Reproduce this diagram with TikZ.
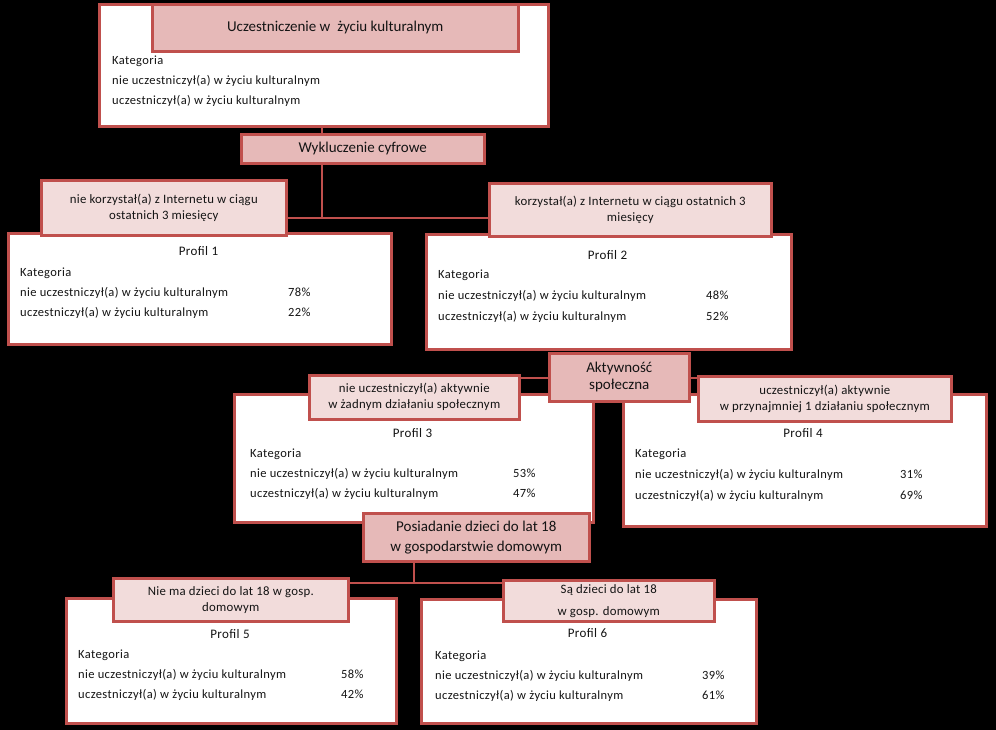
\documentclass[tikz,border=0pt]{standalone}
\usepackage{fontspec}
\setmainfont{Carlito}
\newfontfamily\bodyf{Carlito}[LetterSpace=3]
\newfontfamily\labf{Carlito}[LetterSpace=2]
\definecolor{bord}{HTML}{C0504D}
\definecolor{headf}{HTML}{E6B9B8}
\definecolor{labfill}{HTML}{F2DCDB}
\definecolor{ink}{HTML}{141414}
\begin{document}
\begin{tikzpicture}[x=1pt,y=-1pt,
  bx/.style={draw=bord, line width=2.6pt, fill=white, anchor=north west, inner sep=0pt},
  hd/.style={bx, fill=headf, align=center, text=ink, font=\fontsize{15}{19}\selectfont},
  lb/.style={bx, fill=labfill, align=center, text=ink, font=\labf\fontsize{12.8}{16}\selectfont},
  tx/.style={anchor=mid west, inner sep=0pt, text=ink, font=\bodyf\fontsize{12.5}{14}\selectfont},
  ti/.style={anchor=mid, inner sep=0pt, text=ink, font=\bodyf\fontsize{13}{14}\selectfont},
  cn/.style={draw=bord, line width=2.6pt}
]
\fill[black] (0,0) rectangle (996,730);
\useasboundingbox (0,0) rectangle (996,730);

% white boxes
\node[bx, minimum width=449pt, minimum height=122pt] (t) at (98,3) {};
\node[bx, minimum width=383pt, minimum height=111pt] (p1) at (7,232) {};
\node[bx, minimum width=365pt, minimum height=115pt] (p2) at (425,233) {};
\node[bx, minimum width=359pt, minimum height=128pt] (p3) at (233,393) {};
\node[bx, minimum width=363pt, minimum height=132pt] (p4) at (622,393) {};
\node[bx, minimum width=330pt, minimum height=125pt] (p5) at (65,597) {};
\node[bx, minimum width=335pt, minimum height=124pt] (p6) at (420,598) {};

% texts of top box
\node[tx] (tk) at (112,62) {Kategoria};
\node[tx] (tr1) at (112,82) {nie uczestniczył(a) w życiu kulturalnym};
\node[tx] (tr2) at (112,102) {uczestniczył(a) w życiu kulturalnym};

% profile 1
\node[ti] (p1t) at (198.5,253) {Profil 1};
\node[tx] (p1k) at (20,274) {Kategoria};
\node[tx] (p1a) at (20,294) {nie uczestniczył(a) w życiu kulturalnym};
\node[tx] (p1b) at (20,314) {uczestniczył(a) w życiu kulturalnym};
\node[tx] (p1v) at (288,294) {78\%};
\node[tx] (p1w) at (288,314) {22\%};
% profile 2
\node[ti] (p2t) at (607.5,257) {Profil 2};
\node[tx] (p2k) at (438,276) {Kategoria};
\node[tx] (p2a) at (438,297) {nie uczestniczył(a) w życiu kulturalnym};
\node[tx] (p2b) at (438,318) {uczestniczył(a) w życiu kulturalnym};
\node[tx] (p2v) at (706,297) {48\%};
\node[tx] (p2w) at (706,318) {52\%};
% profile 3
\node[ti] (p3t) at (412.5,435) {Profil 3};
\node[tx] (p3k) at (250,455) {Kategoria};
\node[tx] (p3a) at (250,475) {nie uczestniczył(a) w życiu kulturalnym};
\node[tx] (p3b) at (250,495) {uczestniczył(a) w życiu kulturalnym};
\node[tx] (p3v) at (513,475) {53\%};
\node[tx] (p3w) at (513,495) {47\%};
% profile 4
\node[ti] (p4t) at (803,435) {Profil 4};
\node[tx] (p4k) at (635,455) {Kategoria};
\node[tx] (p4a) at (635,476) {nie uczestniczył(a) w życiu kulturalnym};
\node[tx] (p4b) at (635,497) {uczestniczył(a) w życiu kulturalnym};
\node[tx] (p4v) at (900,476) {31\%};
\node[tx] (p4w) at (900,497) {69\%};
% profile 5
\node[ti] (p5t) at (230,636) {Profil 5};
\node[tx] (p5k) at (78,656) {Kategoria};
\node[tx] (p5a) at (78,676) {nie uczestniczył(a) w życiu kulturalnym};
\node[tx] (p5b) at (78,696) {uczestniczył(a) w życiu kulturalnym};
\node[tx] (p5v) at (341,676) {58\%};
\node[tx] (p5w) at (341,696) {42\%};
% profile 6
\node[ti] (p6t) at (587.5,635) {Profil 6};
\node[tx] (p6k) at (435,657) {Kategoria};
\node[tx] (p6a) at (435,677) {nie uczestniczył(a) w życiu kulturalnym};
\node[tx] (p6b) at (435,697) {uczestniczył(a) w życiu kulturalnym};
\node[tx] (p6v) at (702,677) {39\%};
\node[tx] (p6w) at (702,697) {61\%};

% labels
\node[lb, minimum width=245pt, minimum height=55pt] (l1) at (40,179) {nie korzystał(a) z Internetu w ciągu\\ostatnich 3 miesięcy};
\node[lb, minimum width=282pt, minimum height=53pt] (l2) at (488,182) {korzystał(a) z Internetu w ciągu ostatnich 3\\miesięcy};
\node[lb, minimum width=210pt, minimum height=44pt] (l3) at (308,374) {nie uczestniczył(a) aktywnie\\w żadnym działaniu społecznym};
\node[lb, minimum width=253pt, minimum height=45pt] (l4) at (697,375) {uczestniczył(a) aktywnie\\w przynajmniej 1 działaniu społecznym};
\node[lb, minimum width=235pt, minimum height=43pt] (l5) at (112,577) {Nie ma dzieci do lat 18 w gosp.\\domowym};
\node[lb, minimum width=211pt, minimum height=41pt, font=\labf\fontsize{12.8}{22}\selectfont] (l6) at (502,579) {Są dzieci do lat 18\\w gosp. domowym};

% headers
\node[hd, minimum width=366pt, minimum height=47pt] (th) at (151,3) {Uczestniczenie w \ życiu kulturalnym};
\node[hd, minimum width=243pt, minimum height=29pt] (wyk) at (240,133) {Wykluczenie cyfrowe};
\node[hd, minimum width=140pt, minimum height=48pt, font=\fontsize{15}{17}\selectfont] (akt) at (548,352) {Aktywność\\społeczna};
\node[hd, minimum width=226pt, minimum height=48pt, font=\fontsize{15}{20}\selectfont] (pos) at (362,512) {Posiadanie dzieci do lat 18\\w gospodarstwie domowym};

% connectors
\coordinate (j1) at (322,218);
\coordinate (j3) at (600,378);
\coordinate (j4) at (414,583);
\draw[cn] (t.south -| j1) -- (wyk.north -| j1);
\draw[cn] (wyk.south -| j1) -- (j1);
\draw[cn] (l1.east |- j1) -- (l2.west |- j1);
\draw[cn] (l3.east |- j3) -- (akt.west |- j3);
\draw[cn] (akt.east |- j3) -- (l4.west |- j3);
\draw[cn] (pos.south -| j4) -- (j4);
\draw[cn] (l5.east |- j4) -- (l6.west |- j4);
\end{tikzpicture}
\end{document}
